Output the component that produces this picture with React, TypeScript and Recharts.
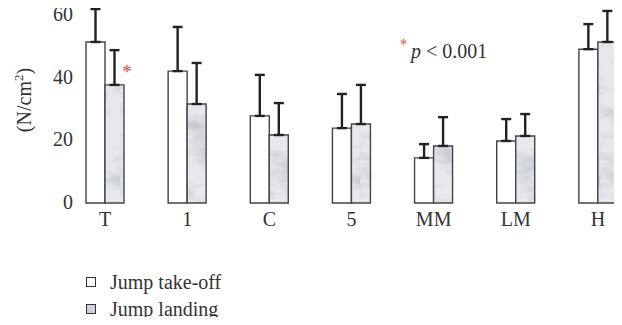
import { BarChart, Bar, XAxis, YAxis, ErrorBar, Legend, LabelList, Customized } from "recharts";

const FONT = "'Liberation Serif', serif";

// (N/cm2), mean + upper SD
const SITES = ["T", "1", "C", "5", "MM", "LM", "H"];
const TAKEOFF = [51.4, 42.1, 27.8, 23.9, 14.4, 19.8, 49.1];
const TAKEOFF_SD = [10.5, 14.1, 13.1, 10.9, 4.4, 7.0, 8.0];
const LANDING = [37.7, 31.6, 21.7, 25.2, 18.2, 21.4, 51.4];
const LANDING_SD = [11.1, 13.1, 10.2, 12.5, 9.2, 7.0, 9.9];
const SIGNIFICANT = ["*", "", "", "", "", "", ""];
const Y_TICKS = [0, 20, 40, 60];
const SERIES_NAMES = ["Jump take-off", "Jump landing"];

const data = SITES.map((site, i) => ({
  site,
  takeoff: TAKEOFF[i],
  takeoffErr: [0, TAKEOFF_SD[i]],
  landing: LANDING[i],
  landingErr: [0, LANDING_SD[i]],
  sig: SIGNIFICANT[i],
}));

function YTick(props: any) {
  const { x, y, payload } = props;
  return (
    <text x={x + 17} y={y} dy={6} textAnchor="end" fontFamily={FONT} fontSize={20} fill="#333">
      {payload.value}
    </text>
  );
}

function XTick(props: any) {
  const { x, y, payload } = props;
  return (
    <text x={x} y={y} dy={15} textAnchor="middle" fontFamily={FONT} fontSize={20} fill="#333">
      {payload.value}
    </text>
  );
}

function YLabel() {
  return (
    <text transform="rotate(-90, 31, 100)" x={31} y={100} textAnchor="middle" fontFamily={FONT} fontSize={20} fill="#333">
      (N/cm<tspan dy={-8} fontSize={13}>2</tspan>
      <tspan dy={8}>)</tspan>
    </text>
  );
}

function Star(props: any) {
  const { x, y, width, value } = props;
  if (!value) return null;
  return (
    <text x={x + width + 3} y={y - 7} textAnchor="middle" fontFamily={FONT} fontSize={19} fill="#e8413c">
      {value}
    </text>
  );
}

function Note() {
  return (
    <text x={400} y={58} fontFamily={FONT} fontSize={20} fill="#333">
      <tspan fill="#e8413c" fontSize={14} dy={-9}>*</tspan>
      <tspan dy={9} dx={4} fontStyle="italic">p</tspan>
      <tspan> &lt; 0.001</tspan>
    </text>
  );
}

function LegendBox() {
  const fills = ["#ffffff", "#cfd1d6"];
  return (
    <div style={{ fontFamily: FONT, fontSize: 20, color: "#333", lineHeight: "26.5px" }}>
      {SERIES_NAMES.map((name, i) => (
        <div key={name} style={{ display: "flex", alignItems: "center" }}>
          <span
            style={{
              display: "inline-block",
              width: 8,
              height: 8,
              border: "1px solid #333",
              background: fills[i],
              marginRight: 14,
            }}
          />
          {name}
        </div>
      ))}
    </div>
  );
}

export default function App() {
  return (
    <div style={{ margin: -8, width: 622, height: 325 }}>
      <BarChart
        width={622}
        height={325}
        data={data}
        barSize={19}
        barGap={0}
        margin={{ top: 2.5, right: -17, left: 0, bottom: 92 }}
      >
        <defs>
          <filter id="marbleNoise" x="0" y="0" width="100%" height="100%">
            <feTurbulence type="fractalNoise" baseFrequency="0.03 0.06" numOctaves={3} seed={4} />
            <feColorMatrix
              type="matrix"
              values="0 0 0 0 0.55  0 0 0 0 0.57  0 0 0 0 0.62  2.2 0 0 0 -0.95"
            />
            <feComposite in2="SourceGraphic" operator="atop" />
          </filter>
          <pattern id="marble" patternUnits="userSpaceOnUse" width={120} height={220}>
            <rect width={120} height={220} fill="#e6e8ec" filter="url(#marbleNoise)" />
          </pattern>
        </defs>
        <XAxis dataKey="site" axisLine={false} tickLine={false} height={30} tick={<XTick />} interval={0} />
        <YAxis
          width={64}
          domain={[0, 64]}
          ticks={Y_TICKS}
          axisLine={false}
          tickLine={false}
          tick={<YTick />}
        />
        <Legend
          layout="vertical"
          align="center"
          verticalAlign="middle"
          wrapperStyle={{ left: 86, top: 269, width: 220 }}
          content={<LegendBox />}
        />
        <Bar dataKey="takeoff" name={SERIES_NAMES[0]} fill="#ffffff" stroke="#444" strokeWidth={1.4} isAnimationActive={false}>
          <ErrorBar dataKey="takeoffErr" direction="y" width={5} stroke="#222" strokeWidth={2.4} />
        </Bar>
        <Bar dataKey="landing" name={SERIES_NAMES[1]} fill="url(#marble)" stroke="#444" strokeWidth={1.4} isAnimationActive={false}>
          <ErrorBar dataKey="landingErr" direction="y" width={5} stroke="#222" strokeWidth={2.4} />
          <LabelList dataKey="sig" content={<Star />} />
        </Bar>
        <Customized component={<YLabel />} />
        <Customized component={<Note />} />
      </BarChart>
    </div>
  );
}
